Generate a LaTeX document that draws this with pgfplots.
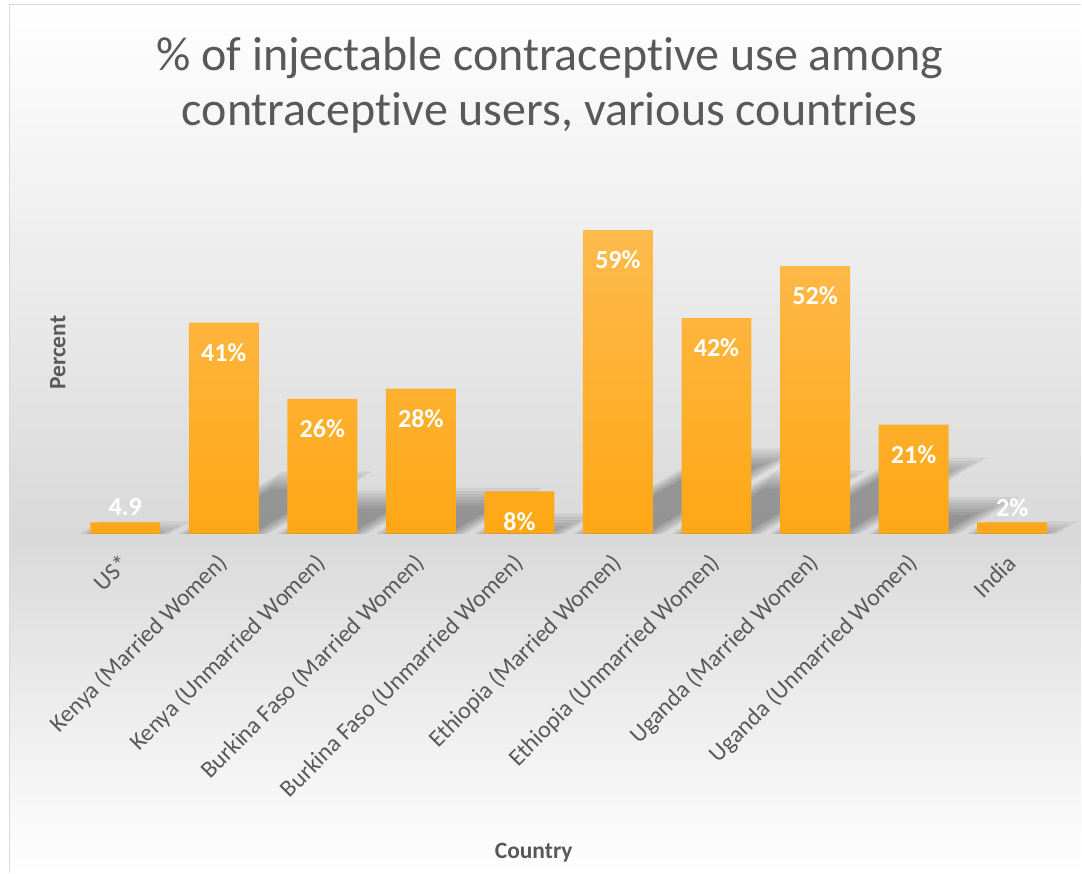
\documentclass[border=0pt]{standalone}
\usepackage{pgfplots}
\pgfplotsset{compat=1.18}
\usepackage{pgfplotstable}
\usepackage{fontspec}
\setmainfont{Carlito}[Ligatures={NoCommon}]
\definecolor{txt}{HTML}{595959}
\definecolor{bgmid}{HTML}{D9D9D9}
\definecolor{framec}{HTML}{D9D9D9}
\definecolor{bartop}{HTML}{FDBB4D}
\definecolor{barbot}{HTML}{FFA715}

\pgfplotstableread{
x v lab off
0 2.2 4.9 11.25
1 41 41\% -22.5
2 26.2 26\% -22.5
3 28.2 28\% -22.5
4 8.2 8\% -22.5
5 59 59\% -22.5
6 41.9 42\% -22.5
7 52 52\% -22.5
8 21.2 21\% -22.5
9 2.2 2\% 11.25
}\datatab

\pgfdeclareplotmark{shadowmark}{%
  \pgfmathsetmacro\H{0.25*\barv*5.15}%
  \begin{scope}[x=0.75pt,y=0.75pt]
  \foreach \d in {-9,-6,-3,0,3,6,9}{%
    \pgfmathsetmacro\Hd{max(\H+\d,0)}%
    \pgfmathsetmacro\dx{\Hd/0.6}%
    \fill[black,opacity=0.05] ({-35-\d},0) -- ({35+\d},0) -- ({35+\d+\dx},\Hd) -- ({-35-\d+\dx},\Hd) -- cycle;
  }
  \end{scope}
}

\pgfplotsset{myax/.style={
  at={(93.975pt,254.25pt)}, anchor=origin,
  scale only axis, width=739.5pt, height=270.375pt,
  xmin=-0.5, xmax=9.5, ymin=0, ymax=70,
  axis line style={draw=none},
  major tick length=0pt,
  ytick=\empty,
}}

\begin{document}
\begin{tikzpicture}[x=0.75pt,y=0.75pt]
% canvas
\fill[white] (0,0) rectangle (1082,873);
\shade[top color=white,bottom color=bgmid] (9.5,339) rectangle (1081.5,868.5);
\shade[top color=bgmid,bottom color=white] (9.5,0) rectangle (1081.5,339);
\draw[framec,line width=0.9pt] (9.5,0) -- (9.5,868.5) -- (1082,868.5);

% title
\node[text=txt,font=\fontsize{36}{40}\selectfont] at (550,815) {\% of injectable contraceptive use among};
\node[text=txt,font=\fontsize{36}{40}\selectfont] at (550,760) {contraceptive users, various countries};
% axis titles
\node[text=txt,font=\bfseries\fontsize{17.6}{20}\selectfont,rotate=90] at (58,520) {Percent};
\node[text=txt,font=\bfseries\fontsize{17.6}{20}\selectfont] at (534,20) {Country};

% shadows
\begin{axis}[myax, xtick=\empty]
\addplot[only marks, mark=shadowmark,
  visualization depends on={\thisrow{v}\as\barv}]
  table[x=x, y expr=0] {\datatab};
\end{axis}

% bars
\begin{axis}[myax,
  xtick={0,...,9},
  xticklabels={US*,Kenya (Married Women),Kenya (Unmarried Women),Burkina Faso (Married Women),Burkina Faso (Unmarried Women),Ethiopia (Married Women),Ethiopia (Unmarried Women),Uganda (Married Women),Uganda (Unmarried Women),India},
  xticklabel style={rotate=45, anchor=east, inner sep=0pt, text=txt, font=\fontsize{18}{20}\selectfont},
  xticklabel shift=19pt,
]
\addplot[ybar, bar width=52.5pt, bar shift=0pt, draw=none,
  top color=bartop, bottom color=barbot,
  point meta=explicit symbolic,
  visualization depends on={\thisrow{off}\as\off},
  nodes near coords,
  every node near coord/.append style={anchor=center, yshift=\off pt, text=white, font=\bfseries\fontsize{19.5}{22}\selectfont}]
  table[x=x, y=v, meta=lab] {\datatab};
\end{axis}
\end{tikzpicture}
\end{document}
